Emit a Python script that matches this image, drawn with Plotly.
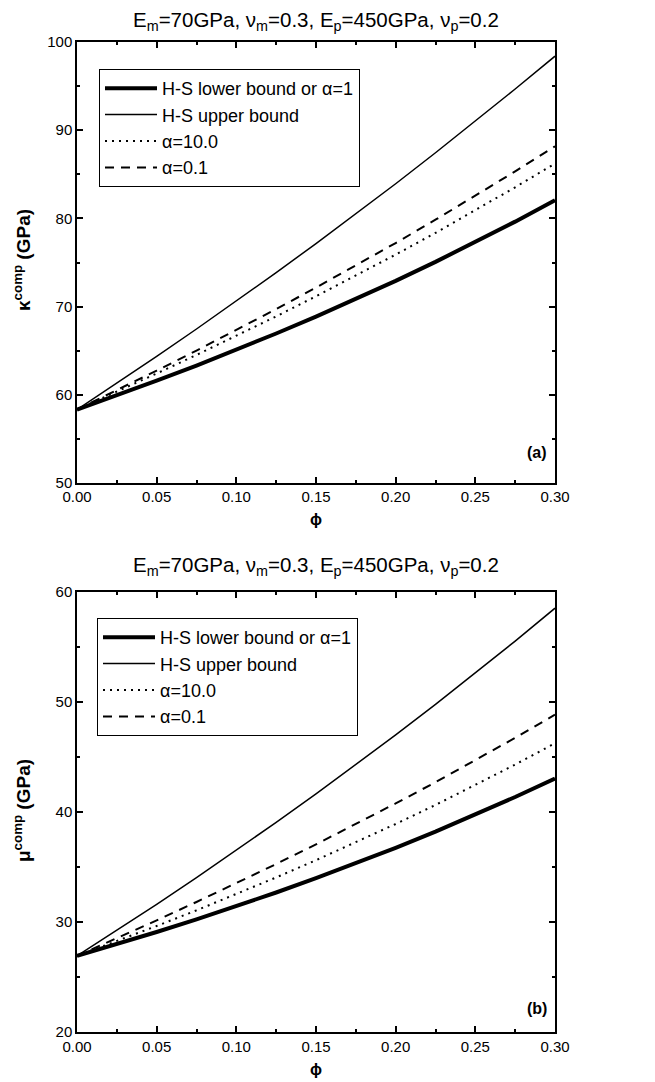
import plotly.graph_objects as go

phi = [0.0, 0.025, 0.05, 0.075, 0.1, 0.125, 0.15, 0.175, 0.2, 0.225, 0.25, 0.275, 0.3]

# panel (a): bulk modulus (GPa)
k_lower = [58.33, 59.94, 61.60, 63.32, 65.10, 66.95, 68.87, 70.86, 72.92, 75.07, 77.31, 79.63, 82.05]
k_upper = [58.33, 61.32, 64.36, 67.46, 70.62, 73.85, 77.15, 80.50, 83.93, 87.44, 91.01, 94.67, 98.39]
k_a10 = [58.33, 60.35, 62.41, 64.52, 66.67, 68.89, 71.17, 73.50, 75.89, 78.36, 80.91, 83.53, 86.22]
k_a01 = [58.33, 60.51, 62.74, 65.01, 67.34, 69.72, 72.16, 74.66, 77.21, 79.85, 82.55, 85.33, 88.18]

# panel (b): shear modulus (GPa)
m_lower = [26.92, 27.99, 29.09, 30.24, 31.44, 32.68, 33.98, 35.33, 36.74, 38.21, 39.75, 41.36, 43.04]
m_upper = [26.92, 29.24, 31.61, 34.04, 36.51, 39.05, 41.64, 44.29, 47.01, 49.78, 52.63, 55.54, 58.53]
m_a10 = [26.92, 28.26, 29.64, 31.06, 32.53, 34.05, 35.62, 37.23, 38.91, 40.64, 42.44, 44.31, 46.25]
m_a01 = [26.92, 28.52, 30.15, 31.82, 33.53, 35.27, 37.06, 38.90, 40.78, 42.71, 44.70, 46.74, 48.85]

names = ["H-S lower bound or \u03b1=1", "H-S upper bound", "\u03b1=10.0", "\u03b1=0.1"]
title_text = "E<sub>m</sub>=70GPa, \u03bd<sub>m</sub>=0.3, E<sub>p</sub>=450GPa, \u03bd<sub>p</sub>=0.2"
ytitle_a = "<b>\u03ba<sup>comp</sup> (GPa)</b>"
ytitle_b = "<b>\u03bc<sup>comp</sup> (GPa)</b>"

FONT = "Liberation Sans, Arial, sans-serif"
styles = [dict(width=4, dash="solid"), dict(width=1.5, dash="solid"),
          dict(width=2, dash="2px,5px"), dict(width=2, dash="9px,7px")]

fig = go.Figure()
for series, st, nm in zip([k_lower, k_upper, k_a10, k_a01], styles, names):
    fig.add_trace(go.Scatter(x=phi, y=series, mode="lines", name=nm,
                             line=dict(color="black", **st), xaxis="x", yaxis="y",
                             legend="legend"))
for series, st, nm in zip([m_lower, m_upper, m_a10, m_a01], styles, names):
    fig.add_trace(go.Scatter(x=phi, y=series, mode="lines", name=nm,
                             line=dict(color="black", **st), xaxis="x2", yaxis="y2",
                             legend="legend2"))

# the page body adds an 8px offset; figure coordinates below are page coords - 8
W, H = 647, 1074
OFF = 8
L = 77 - OFF
PW = 478

def fy(page_y):
    return 1 - (page_y - OFF) / H

def fx(page_x):
    return (page_x - 77) / PW

def ax_common():
    return dict(showline=True, linecolor="black", linewidth=1.5, mirror="allticks",
                ticks="inside", ticklen=6, tickwidth=1.5, tickcolor="black",
                showgrid=False, zeroline=False, automargin=False,
                tickfont=dict(family=FONT, size=15, color="black"))

def x_axis(anchor, standoff_lbl):
    d = ax_common()
    d.update(range=[0, 0.3], dtick=0.05, tickformat=".2f", ticklabelstandoff=standoff_lbl,
             minor=dict(dtick=0.025, ticks="inside", ticklen=3, tickcolor="black"),
             anchor=anchor, domain=[0, 1],
             title=dict(text="<b>\u03d5</b>", font=dict(family=FONT, size=16, color="black"), standoff=10))
    return d

ya = ax_common()

legend_common = dict(xanchor="left", yanchor="top", bordercolor="black", borderwidth=1,
                     bgcolor="white", itemwidth=52, tracegroupgap=0,
                     font=dict(family=FONT, size=18, color="black"))

fig.update_layout(
    template="none",
    width=W, height=H,
    margin=dict(l=L, r=W - L - PW, t=0, b=0, autoexpand=False),
    paper_bgcolor="white", plot_bgcolor="white",
    showlegend=True,
    xaxis=x_axis("y", -1),
    yaxis=dict(**ya, range=[50, 100], dtick=10, anchor="x",
               domain=[fy(483), fy(42)],
               minor=dict(dtick=5, ticks="inside", ticklen=3, tickcolor="black")),
    xaxis2=x_axis("y2", 0),
    yaxis2=dict(**ya, range=[20, 60], dtick=10, anchor="x2",
                domain=[fy(1032), fy(592)],
                minor=dict(dtick=5, ticks="inside", ticklen=3, tickcolor="black")),
    legend=dict(x=fx(99), y=fy(69), **legend_common),
    legend2=dict(x=fx(97), y=fy(618), **legend_common),
    annotations=[
        dict(text=title_text, x=0.5, y=1 + 2 / H, xref="paper", yref="paper", yanchor="top",
             showarrow=False, font=dict(family=FONT, size=20.5, color="black")),
        dict(text=title_text, x=0.5, y=fy(566), xref="paper", yref="paper", yanchor="middle",
             showarrow=False, font=dict(family=FONT, size=20.5, color="black")),
        dict(text=ytitle_a, x=fx(22), y=fy(260), xref="paper", yref="paper",
             xanchor="center", yanchor="middle", textangle=-90,
             showarrow=False, font=dict(family=FONT, size=19, color="black")),
        dict(text=ytitle_b, x=fx(22), y=fy(811), xref="paper", yref="paper",
             xanchor="center", yanchor="middle", textangle=-90,
             showarrow=False, font=dict(family=FONT, size=19, color="black")),
        dict(text="<b>(a)</b>", x=0.289, y=53.5, xref="x", yref="y",
             showarrow=False, font=dict(family=FONT, size=16, color="black")),
        dict(text="<b>(b)</b>", x=0.289, y=22.1, xref="x2", yref="y2",
             showarrow=False, font=dict(family=FONT, size=16, color="black")),
    ],
)

fig.write_html("out.html")
